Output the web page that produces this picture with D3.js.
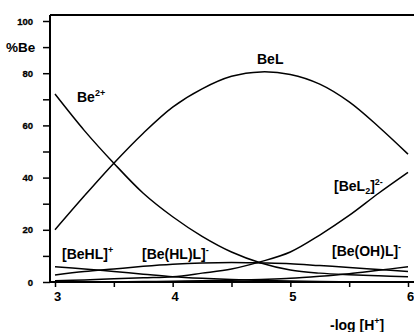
<!DOCTYPE html>
<html>
<head>
<meta charset="utf-8">
<script src="https://cdn.jsdelivr.net/npm/d3@7"></script>
<style>
  body { margin: 0; background: #fff; }
  text { font-family: "Liberation Sans", Arial, sans-serif; font-weight: bold; fill: #000; }
</style>
</head>
<body>
<div id="chart"></div>
<script>
// data
const pH = [3, 3.25, 3.5, 3.75, 4, 4.25, 4.5, 4.75, 5, 5.25, 5.5, 5.75, 6];
const be2 = [72, 58, 45.5, 34, 25, 17.5, 11.5, 7.3, 4.6, 3.4, 2.8, 2.4, 2.0];
const beL = [20, 33, 45.5, 57, 67, 74, 78.8, 80.5, 79.5, 75.8, 69, 59.5, 49];
const beL2 = [0.5, 0.8, 1.2, 1.6, 2, 3.4, 5, 7.8, 11.5, 18, 25.5, 34, 42];
const beHL = [5.8, 5, 4, 3, 2, 1.4, 1, 0.6, 0.4, 0.2, 0.1, 0.1, 0];
const beHLL = [2.7, 4, 5, 6, 6.8, 7.3, 7.5, 7.3, 7, 6.3, 5.6, 4.8, 4];
const beOHL = [0, 0.05, 0.1, 0.2, 0.3, 0.5, 0.7, 1, 1.4, 2.2, 3.2, 4.5, 5.8];
const series = [be2, beL, beL2, beHL, beHLL, beOHL];

const yTicks = [0, 10, 20, 30, 40, 50, 60, 70, 80, 90, 100];
const yTickLabels = ["0", "", "20", "", "40", "", "60", "", "80", "", "100"];
const xTicks = [3, 3.5, 4, 4.5, 5, 5.5, 6];
const xTickLabels = ["3", "", "4", "", "5", "", "6"];

const width = 414;
const height = 332;

const x = d3.scaleLinear().domain([3, 6]).range([55, 408]);
const y = d3.scaleLinear().domain([0, 100]).range([282, 21]);

const svg = d3.select("#chart")
  .append("svg")
  .attr("width", width)
  .attr("height", height);

// frame: top line, left axis
svg.append("line")
  .attr("x1", 50).attr("x2", width).attr("y1", 15).attr("y2", 15)
  .attr("stroke", "#000").attr("stroke-width", 2);
svg.append("line")
  .attr("x1", 50).attr("x2", 50).attr("y1", 15).attr("y2", y(0))
  .attr("stroke", "#000").attr("stroke-width", 2);

// y axis
const yAxis = d3.axisLeft(y)
  .tickValues(yTicks)
  .tickSize(7)
  .tickFormat((d, i) => yTickLabels[i]);
const gy = svg.append("g")
  .attr("transform", "translate(50,0)")
  .call(yAxis);
gy.select(".domain").remove();
gy.selectAll(".tick line").attr("stroke", "#000").attr("stroke-width", 1.5);
gy.selectAll(".tick text").attr("font-size", 9.5).attr("x", -17)
  .attr("stroke", "#000").attr("stroke-width", 0.3);

// x axis
const xAxis = d3.axisBottom(x)
  .tickValues(xTicks)
  .tickSize(5)
  .tickFormat((d, i) => xTickLabels[i]);
const gx = svg.append("g")
  .attr("transform", `translate(0,${y(0)})`)
  .call(xAxis);
gx.select(".domain").attr("d", `M50,0H${width}`).attr("stroke", "#000").attr("stroke-width", 2);
gx.selectAll(".tick line").attr("stroke", "#000").attr("stroke-width", 1.5);
gx.selectAll(".tick text").attr("font-size", 13).attr("y", 10).attr("dx", 2);

// axis titles
svg.append("text").attr("x", 6).attr("y", y(90) + 5).attr("font-size", 13.5).text("%Be");
const xt = svg.append("text").attr("x", 330).attr("y", 330).attr("font-size", 14);
xt.append("tspan").text("-log [H");
xt.append("tspan").attr("font-size", 9).attr("dy", -6).text("+");
xt.append("tspan").attr("dy", 6).text("]");

// curves
const line = d3.line()
  .x((d, i) => x(pH[i]))
  .y(d => y(d))
  .curve(d3.curveCatmullRom);

svg.append("g")
  .selectAll("path")
  .data(series)
  .join("path")
  .attr("d", d => line(d))
  .attr("fill", "none")
  .attr("stroke", "#000")
  .attr("stroke-width", 1.5);

// curve labels
function label(px, py, parts) {
  const t = svg.append("text").attr("x", px).attr("y", py).attr("font-size", 14);
  parts.forEach(p => {
    const s = t.append("tspan").text(p.t);
    if (p.sup) s.attr("font-size", 9).attr("dy", -6);
    if (p.sub) s.attr("font-size", 9).attr("dy", 3);
    if (p.back) s.attr("dy", p.back);
  });
}
label(77, 102, [{ t: "Be" }, { t: "2+", sup: true }]);
label(257, 64, [{ t: "BeL" }]);
label(334, 191, [{ t: "[BeL" }, { t: "2", sub: true }, { t: "]", back: -3 }, { t: "2-", sup: true }]);
label(62, 259, [{ t: "[BeHL]" }, { t: "+", sup: true }]);
label(142, 259, [{ t: "[Be(HL)L]" }, { t: "-", sup: true }]);
label(332, 256, [{ t: "[Be(OH)L]" }, { t: "-", sup: true }]);
</script>
</body>
</html>
